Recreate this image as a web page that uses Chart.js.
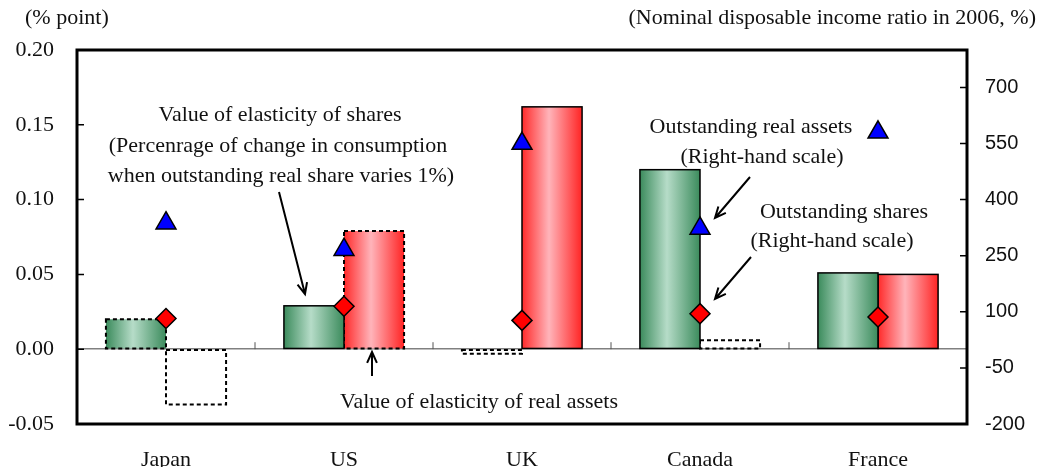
<!DOCTYPE html>
<html>
<head>
<meta charset="utf-8">
<script src="https://cdn.jsdelivr.net/npm/chart.js@4.4.1/dist/chart.umd.min.js"></script>
<style>
  html, body { margin: 0; padding: 0; background: #fff; }
  #wrap { width: 1040px; height: 467px; }
</style>
</head>
<body>
<div id="wrap"><canvas id="chart" width="1040" height="467"></canvas></div>
<script>
const categories = ["Japan", "US", "UK", "Canada", "France"];

// elasticity values, left scale (% point)
const sharesElasticity = [0.020, 0.029, -0.003, 0.120, 0.051];
const assetsElasticity = [-0.037, 0.079, 0.162, 0.006, 0.050];

// dashed outline / hollow bar flags
const sharesDashed = [true, false, true, false, false];
const sharesFilled = [true, true, false, true, true];
const assetsDashed = [true, true, false, true, false];
const assetsFilled = [false, true, true, false, true];

// outstanding amounts, right scale (nominal disposable income ratio, %)
const realAssetsOutstanding = [337, 266, 550, 323, 580];
const sharesOutstanding = [82, 115, 77, 95, 86];

const leftTicks = [-0.05, 0, 0.05, 0.10, 0.15, 0.20];
const rightTicks = [-200, -50, 100, 250, 400, 550, 700];

const SERIF = '"Liberation Serif", "Times New Roman", serif';
const SANS = '"Liberation Sans", Arial, sans-serif';
const CAT_PCT = 0.675;
const GREEN = ["#3b8b5c", "#b6dcc8", "#3b8b5c"];
const RED = ["#ff2a2a", "#ffb4ba", "#ff2424"];

// horizontal gradient across each bar
function barFill(stops, filled, side) {
  return (c) => {
    if (c.type !== "data") return stops[1];
    if (!filled[c.dataIndex]) return "rgba(0,0,0,0)";
    const xs = c.chart.scales.x;
    if (!xs || !Number.isFinite(xs.width) || !xs.width) return stops[1];
    const mid = xs.getPixelForValue(c.dataIndex);
    if (!Number.isFinite(mid)) return stops[1];
    const w = xs.width / categories.length * CAT_PCT / 2;
    const left = side < 0 ? mid - w : mid;
    const g = c.chart.ctx.createLinearGradient(left, 0, left + w, 0);
    g.addColorStop(0, stops[0]);
    g.addColorStop(0.45, stops[1]);
    g.addColorStop(1, stops[2]);
    return g;
  };
}

function arrow(ctx, x1, y1, x2, y2) {
  const a = Math.atan2(y2 - y1, x2 - x1), L = 12, sp = 0.42;
  ctx.beginPath();
  ctx.moveTo(x1, y1);
  ctx.lineTo(x2, y2);
  ctx.moveTo(x2 - L * Math.cos(a - sp), y2 - L * Math.sin(a - sp));
  ctx.lineTo(x2, y2);
  ctx.lineTo(x2 - L * Math.cos(a + sp), y2 - L * Math.sin(a + sp));
  ctx.stroke();
}

const notes = [
  { t: "Value of elasticity of shares", x: 280, y: 115 },
  { t: "(Percenrage of change in consumption", x: 278, y: 146 },
  { t: "when outstanding real share varies 1%)", x: 281, y: 176 },
  { t: "Value of elasticity of real assets", x: 479, y: 402 },
  { t: "Outstanding real assets", x: 751, y: 127 },
  { t: "(Right-hand scale)", x: 762, y: 157 },
  { t: "Outstanding shares", x: 844, y: 212 },
  { t: "(Right-hand scale)", x: 832, y: 241 }
];
const arrows = [
  [279, 192, 305, 294],
  [372, 376, 372, 352],
  [750, 177, 715, 218],
  [751, 257, 715, 299]
];

const decor = {
  id: "decor",
  afterDatasetDraw(chart, args) {
    const ds = chart.data.datasets[args.index];
    if (ds.type !== "bar") return;
    const ctx = chart.ctx;
    ctx.save();
    ctx.strokeStyle = "#000";
    args.meta.data.forEach((el, i) => {
      const top = Math.min(el.y, el.base);
      const h = Math.abs(el.base - el.y);
      ctx.lineWidth = ds.dashed[i] ? 2 : 1.5;
      ctx.setLineDash(ds.dashed[i] ? [4, 3] : []);
      ctx.strokeRect(el.x - el.width / 2, top, el.width, h);
    });
    ctx.restore();
  },
  afterDraw(chart) {
    const ctx = chart.ctx;
    const a = chart.chartArea;
    const x = chart.scales.x, y = chart.scales.y, y2 = chart.scales.y2;
    ctx.save();
    // inner tick marks
    ctx.strokeStyle = "#000";
    ctx.lineWidth = 1.5;
    ctx.beginPath();
    leftTicks.forEach(v => {
      const p = y.getPixelForValue(v);
      ctx.moveTo(a.left, p); ctx.lineTo(a.left + 7, p);
    });
    rightTicks.forEach(v => {
      const p = y2.getPixelForValue(v);
      ctx.moveTo(a.right - 7, p); ctx.lineTo(a.right, p);
    });
    ctx.stroke();
    // category ticks on the zero line
    const y0 = y.getPixelForValue(0);
    ctx.strokeStyle = "#555";
    ctx.lineWidth = 1;
    ctx.beginPath();
    for (let i = 0; i < categories.length - 1; i++) {
      const bx = (x.getPixelForValue(i) + x.getPixelForValue(i + 1)) / 2;
      ctx.moveTo(bx, y0); ctx.lineTo(bx, y0 - 7);
    }
    ctx.stroke();
    // frame
    ctx.strokeStyle = "#000";
    ctx.lineWidth = 3;
    ctx.strokeRect(a.left, a.top, a.right - a.left, a.bottom - a.top);
    // titles
    ctx.fillStyle = "#111";
    ctx.font = "22px " + SERIF;
    ctx.textBaseline = "middle";
    ctx.textAlign = "left";
    ctx.fillText("(% point)", 25, 18);
    ctx.textAlign = "right";
    ctx.fillText("(Nominal disposable income ratio in 2006, %)", 1036, 18);
    // annotations
    ctx.textAlign = "center";
    notes.forEach(n => ctx.fillText(n.t, n.x, n.y));
    ctx.strokeStyle = "#000";
    ctx.lineWidth = 2;
    arrows.forEach(r => arrow(ctx, r[0], r[1], r[2], r[3]));
    ctx.restore();
  }
};

new Chart(document.getElementById("chart"), {
  data: {
    labels: categories,
    datasets: [
      {
        type: "bar", label: "Value of elasticity of shares",
        data: sharesElasticity, yAxisID: "y", order: 2,
        backgroundColor: barFill(GREEN, sharesFilled, -1),
        borderWidth: 0, dashed: sharesDashed,
        categoryPercentage: CAT_PCT, barPercentage: 1
      },
      {
        type: "bar", label: "Value of elasticity of real assets",
        data: assetsElasticity, yAxisID: "y", order: 2,
        backgroundColor: barFill(RED, assetsFilled, 1),
        borderWidth: 0, dashed: assetsDashed,
        categoryPercentage: CAT_PCT, barPercentage: 1
      },
      {
        type: "line", label: "Outstanding real assets",
        data: realAssetsOutstanding, yAxisID: "y2", order: 1,
        showLine: false, pointStyle: "triangle", pointRadius: 11.5,
        pointBackgroundColor: "#0000ff", pointBorderColor: "#000",
        pointBorderWidth: 1.5, clip: false
      },
      {
        type: "line", label: "Outstanding shares",
        data: sharesOutstanding, yAxisID: "y2", order: 0,
        showLine: false, pointStyle: "rectRot", pointRadius: 10,
        pointBackgroundColor: "#ff0000", pointBorderColor: "#000",
        pointBorderWidth: 1.5, clip: false
      }
    ]
  },
  options: {
    responsive: false,
    animation: false,
    devicePixelRatio: 1,
    events: [],
    layout: { padding: { top: 50, left: 0, right: 0, bottom: 0 } },
    plugins: { legend: { display: false }, tooltip: { enabled: false } },
    scales: {
      x: {
        grid: { display: false, drawTicks: false },
        border: { display: false },
        ticks: { font: { family: SERIF, size: 22 }, color: "#111", padding: 23, maxRotation: 0 },
        afterFit: s => { s.height = 43; }
      },
      y: {
        position: "left", min: -0.05, max: 0.20,
        afterBuildTicks: s => { s.ticks = leftTicks.map(v => ({ value: v })); },
        ticks: { callback: v => v.toFixed(2), font: { family: SERIF, size: 22 }, color: "#111", padding: 23 },
        grid: {
          drawTicks: false, lineWidth: 1.5,
          color: c => (c.tick && c.tick.value === 0 ? "#808080" : "rgba(0,0,0,0)")
        },
        border: { display: false },
        afterFit: s => { s.width = 77; }
      },
      y2: {
        position: "right", min: -200, max: 800,
        afterBuildTicks: s => { s.ticks = rightTicks.map(v => ({ value: v })); },
        ticks: { font: { family: SANS, size: 20 }, color: "#111", padding: 18 },
        grid: { display: false, drawTicks: false },
        border: { display: false },
        afterFit: s => { s.width = 73; }
      }
    }
  },
  plugins: [decor]
});
</script>
</body>
</html>
